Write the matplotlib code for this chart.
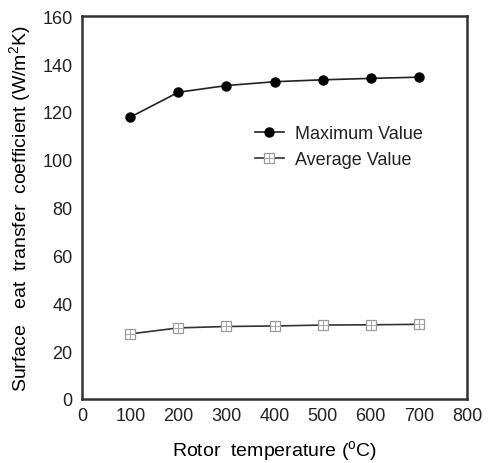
import matplotlib.pyplot as plt
import numpy as np

temperature = [100, 200, 300, 400, 500, 600, 700]
max_value = [117.8, 128.2, 131.0, 132.6, 133.4, 134.0, 134.5]
avg_value = [27.2, 29.7, 30.3, 30.5, 30.9, 31.0, 31.2]

plt.rcParams['font.family'] = ['Liberation Sans', 'DejaVu Sans']
plt.rcParams['mathtext.fontset'] = 'custom'
plt.rcParams['mathtext.rm'] = 'Liberation Sans'
plt.rcParams['text.color'] = '#222222'

fig = plt.figure(figsize=(4.89, 4.64), dpi=100)
ax = fig.add_axes([0.168, 0.138, 0.787, 0.825])

l1, = ax.plot(temperature, max_value, color='#222222', lw=1.2,
              marker='o', ms=6.5, mfc='black', mec='black')
l2, = ax.plot(temperature, avg_value, color='#333333', lw=1.2,
              marker='s', ms=6.5, mfc='white', mec='#999999', mew=0.9)
p2, = ax.plot(temperature, avg_value, ls='none', marker='+', ms=6.5,
              mec='#aaaaaa', mew=0.8)

ax.legend([l1, (l2, p2)], ['Maximum Value', 'Average Value'],
          loc='upper left', bbox_to_anchor=(0.43, 0.735), frameon=False,
          fontsize=13, handlelength=1.6, handletextpad=0.6, labelspacing=0.5,
          borderaxespad=0)

ax.set_xlim(0, 800)
ax.set_ylim(0, 160)
ax.set_xticks(np.arange(0, 801, 100))
ax.set_yticks(np.arange(0, 161, 20))
ax.tick_params(labelsize=13, length=0, colors='#222222')
ax.tick_params(axis='y', pad=7)
ax.tick_params(axis='x', pad=6)
for s in ax.spines.values():
    s.set_linewidth(1.8)
    s.set_color('#333333')

ax.set_xlabel('Rotor  temperature ($^\\mathrm{o}$C)', fontsize=14, labelpad=10)
ax.set_ylabel('Surface   eat  transfer  coefficient (W/m$^\\mathrm{2}$K)', fontsize=14, labelpad=6)

plt.savefig('out.png', dpi=100)
